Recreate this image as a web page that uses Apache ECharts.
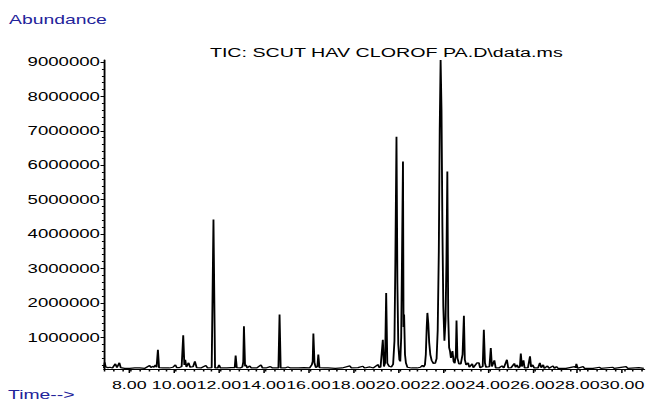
<!DOCTYPE html>
<html>
<head>
<meta charset="utf-8">
<script src="https://cdn.jsdelivr.net/npm/echarts@6/dist/echarts.min.js"></script>
<style>
html,body{margin:0;padding:0;background:#fff;overflow:hidden;}
#wrap{width:649px;height:401px;overflow:hidden;}
#chart{width:419px;height:401px;transform:scaleX(1.5489);transform-origin:0 0;}
</style>
</head>
<body>
<div id="wrap"><div id="chart"></div></div>
<script>
// Retention time (min)
const times = [
6.87,6.90,6.95,7.05,7.14,7.25,7.38,7.45,7.56,7.62,7.80,8.02,8.25,8.47,8.70,8.91,8.97,9.04,9.10,9.17,9.22,9.28,9.33,9.50,9.79,9.95,
10.06,10.12,10.24,10.34,10.41,10.46,10.50,10.55,10.65,10.72,10.85,10.93,11.01,11.20,11.42,11.50,11.68,11.76,11.83,11.95,12.01,12.07,
12.36,12.55,12.71,12.75,12.80,12.95,13.05,13.09,13.12,13.17,13.21,13.27,13.38,13.45,13.70,13.88,13.95,14.10,14.30,14.40,14.66,14.71,
14.76,14.95,15.08,15.20,15.55,15.80,16.05,16.15,16.19,16.22,16.27,16.33,16.40,16.44,16.49,16.70,16.88,17.20,17.50,17.85,17.92,18.21,
18.43,18.50,18.74,18.90,19.10,19.16,19.22,19.32,19.37,19.42,19.47,19.52,19.60,19.70,19.78,19.84,19.88,19.93,19.97,20.01,20.06,20.10,
20.14,20.18,20.22,20.245,20.27,20.31,20.35,20.42,20.60,20.85,21.00,21.09,21.14,21.20,21.24,21.28,21.31,21.35,21.39,21.44,21.50,21.58,
21.66,21.72,21.77,21.82,21.86,21.90,21.94,21.98,22.02,22.07,22.12,22.16,22.20,22.24,22.28,22.32,22.36,22.43,22.48,22.53,22.58,22.61,
22.65,22.72,22.80,22.88,22.94,22.98,23.04,23.13,23.18,23.31,23.36,23.53,23.61,23.66,23.78,23.83,23.88,23.93,24.08,24.14,24.19,24.30,
24.36,24.50,24.64,24.72,24.86,24.92,25.05,25.19,25.25,25.31,25.38,25.44,25.48,25.53,25.60,25.65,25.80,25.89,25.94,26.01,26.08,26.25,
26.33,26.39,26.48,26.53,26.67,26.74,26.92,26.98,27.07,27.14,27.50,27.88,27.93,27.96,28.02,28.26,28.32,28.70,29.00,29.06,29.59,29.65,
30.18,30.25,30.75,30.97
];
// Abundance (TIC)
const abundance = [
110000,270000,140000,120000,130000,110000,230000,120000,260000,120000,100000,100000,110000,110000,100000,180000,120000,160000,130000,200000,130000,640000,120000,110000,110000,130000,
200000,120000,120000,150000,1060000,200000,350000,140000,260000,130000,150000,300000,120000,110000,180000,110000,120000,4420000,110000,110000,200000,110000,
110000,120000,120000,470000,120000,110000,140000,280000,1320000,160000,200000,110000,170000,110000,110000,200000,110000,110000,150000,110000,110000,1660000,
110000,110000,140000,110000,110000,120000,110000,200000,300000,1110000,250000,120000,150000,500000,120000,110000,110000,100000,110000,170000,110000,120000,
160000,110000,140000,110000,210000,120000,140000,930000,150000,250000,2290000,250000,160000,140000,220000,900000,3200000,6830000,2600000,800000,350000,300000,
1000000,3500000,6110000,1300000,1660000,500000,260000,130000,110000,110000,130000,190000,140000,200000,500000,1300000,1710000,1400000,850000,500000,330000,240000,
250000,380000,1200000,3500000,7000000,9060000,7600000,4200000,1900000,900000,1500000,3200000,5820000,1600000,700000,600000,400000,600000,300000,250000,500000,1490000,
400000,230000,230000,500000,1630000,350000,200000,260000,130000,230000,120000,260000,260000,120000,150000,1220000,250000,130000,150000,690000,150000,330000,
110000,110000,170000,110000,350000,110000,120000,240000,130000,200000,110000,150000,530000,150000,330000,110000,120000,450000,140000,200000,110000,110000,
260000,120000,200000,100000,170000,100000,170000,100000,150000,100000,100000,150000,120000,230000,100000,150000,100000,100000,130000,100000,130000,100000,
150000,100000,120000,100000
];
// Axis tick labels
const xTickLabels = [8,10,12,14,16,18,20,22,24,26,28,30];
const yTickLabels = [1000000,2000000,3000000,4000000,5000000,6000000,7000000,8000000,9000000];
const titleText = 'TIC: SCUT HAV CLOROF PA.D\\data.ms';

const xMin = 6.87, xMax = 31.0, yMin = 80000, yMax = 9058000;
const xMinor = []; for (let v = 6.88; v <= 31; v += 0.4) xMinor.push(+v.toFixed(2));
const yMinor = []; for (let v = 200000; v <= 9000000; v += 200000) yMinor.push(v);

const data = times.map((t, i) => [t, abundance[i]]);
const FONT = 'Liberation Sans';
const chart = echarts.init(document.getElementById('chart'), null, {renderer: 'svg'});
chart.setOption({
  animation: false,
  backgroundColor: '#fff',
  title: [
    {text: titleText, left: 135.5, top: 46.5, padding: 0,
     textStyle: {fontFamily: FONT, fontSize: 12.7, fontWeight: 'normal', color: '#000'}},
    {text: 'Abundance', left: 5.8, top: 13, padding: 0,
     textStyle: {fontFamily: FONT, fontSize: 12.5, fontWeight: 'normal', color: '#23239a'}},
    {text: 'Time-->', left: 5.2, top: 387.5, padding: 0,
     textStyle: {fontFamily: FONT, fontSize: 12.5, fontWeight: 'normal', color: '#23239a'}}
  ],
  grid: {left: 67.1, right: 0.2, top: 60, bottom: 32, containLabel: false},
  xAxis: [
    {type: 'value', min: xMin, max: xMax, position: 'bottom',
     axisLine: {show: true, lineStyle: {color: '#000', width: 1}},
     axisTick: {show: true, customValues: xTickLabels, length: 4, lineStyle: {color: '#000', width: 1}},
     axisLabel: {show: true, customValues: xTickLabels, margin: 9.5, color: '#000', fontFamily: FONT, fontSize: 11.5,
                 hideOverlap: false, formatter: v => v.toFixed(2)},
     splitLine: {show: false}},
    {type: 'value', min: xMin, max: xMax, position: 'bottom', offset: 0,
     axisLine: {show: false},
     axisTick: {show: true, customValues: xMinor, length: 2.5, lineStyle: {color: '#000', width: 1}},
     axisLabel: {show: false}, splitLine: {show: false}}
  ],
  yAxis: [
    {type: 'value', min: yMin, max: yMax, position: 'left',
     axisLine: {show: true, lineStyle: {color: '#000', width: 1.2}},
     axisTick: {show: true, customValues: yTickLabels, length: 2.2, lineStyle: {color: '#000', width: 1}},
     axisLabel: {show: true, customValues: yTickLabels, margin: 2.6, color: '#000', fontFamily: FONT, fontSize: 12,
                 formatter: v => String(v)},
     splitLine: {show: false}},
    {type: 'value', min: yMin, max: yMax, position: 'left', offset: 0,
     axisLine: {show: false},
     axisTick: {show: true, customValues: yMinor, length: 1.3, lineStyle: {color: '#000', width: 1}},
     axisLabel: {show: false}, splitLine: {show: false}}
  ],
  series: [{
    type: 'line', xAxisIndex: 0, yAxisIndex: 0, data: data,
    showSymbol: false, symbol: 'none', clip: true,
    lineStyle: {color: '#000', width: 1.2}
  }]
});
</script>
</body>
</html>
